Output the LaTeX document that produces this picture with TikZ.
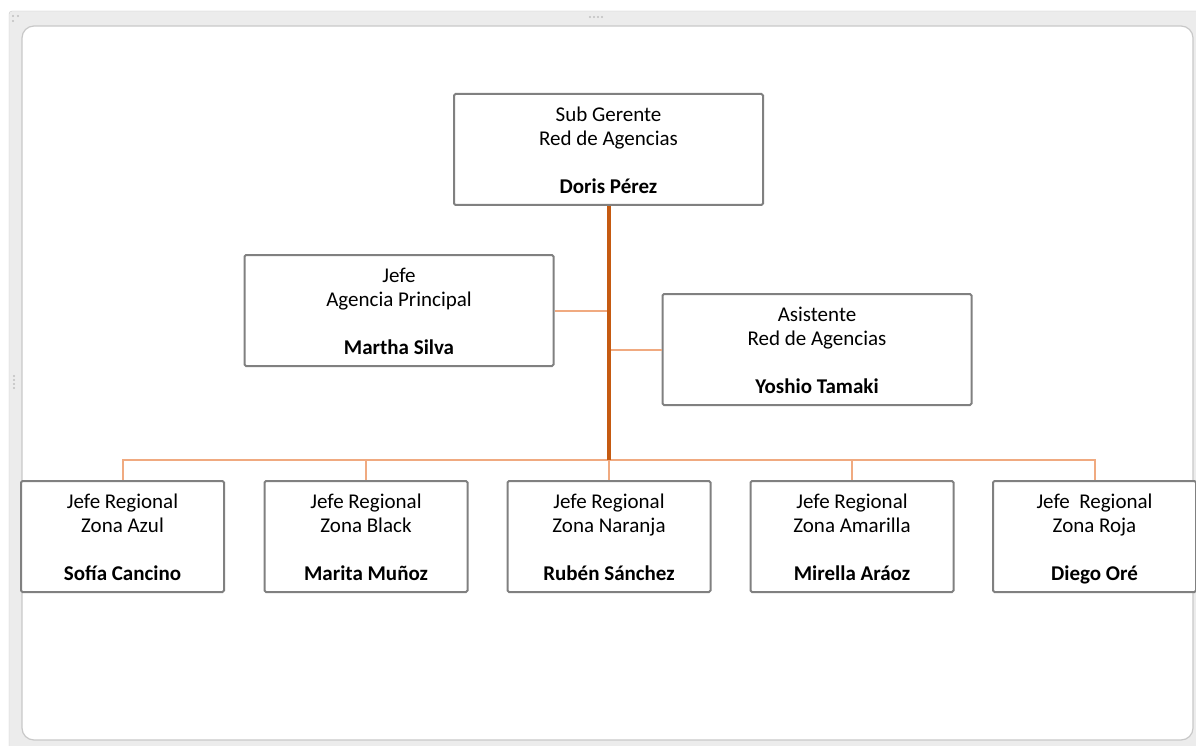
\documentclass[tikz,border=0pt]{standalone}
\usepackage{fontspec}
\setmainfont{Carlito}
\definecolor{boxline}{RGB}{128,128,128}
\definecolor{trunkcol}{RGB}{197,90,17}
\definecolor{branchcol}{RGB}{240,170,128}
\definecolor{framecol}{RGB}{236,236,236}
\definecolor{frameline}{RGB}{200,200,200}
\newcommand{\cardtext}[3]{\rule{0pt}{23pt}#1\\#2\\~\\\textbf{#3}\strut}
\tikzset{
  unit/.style={draw=boxline,line width=2pt,rounded corners=1.5pt,fill=white,
    minimum width=309pt,minimum height=111pt,inner sep=0pt,align=center,
    font=\fontsize{21}{24}\selectfont},
  zone/.style={unit,minimum width=203pt},
  trunk/.style={trunkcol,line width=4pt},
  branch/.style={branchcol,line width=2pt}
}
\begin{document}
\begin{tikzpicture}[x=1pt,y=-1pt]
    \useasboundingbox (0,0) rectangle (1196,746);

    % Frame
    \fill[framecol,rounded corners=3pt] (9,11) rectangle (1210,760);
    \draw[frameline,rounded corners=3pt] (9,760) -- (9,11) -- (1210,11);
    \draw[frameline,fill=white,line width=1.2pt,rounded corners=12pt] (22,26) rectangle (1193,740);
    \foreach \dx in {-6,-2,2,6} \fill[gray!50] (596+\dx,17) circle (1.1pt);
    \foreach \dy in {-6,-2,2,6} \fill[gray!50] (14,382+\dy) circle (1.1pt);
    \fill[gray!50] (13,16) circle (1.1pt) (18,16) circle (1.1pt) (13,21) circle (1.1pt);

    % Top level
    \node[unit] (sub) at (608.5,149.5) {\cardtext{Sub Gerente}{Red de Agencias}{Doris Pérez}};

    % Staff
    \node[unit] (jap) at (399,310.5) {\cardtext{Jefe}{Agencia Principal}{Martha Silva}};
    \node[unit] (asis) at (817,349.5) {\cardtext{Asistente}{Red de Agencias}{Yoshio Tamaki}};

    % Regional heads
    \node[zone] (z1) at (122.5,536.5) {\cardtext{Jefe Regional}{Zona Azul}{Sofía Cancino}};
    \node[zone] (z2) at (366,536.5) {\cardtext{Jefe Regional}{Zona Black}{Marita Muñoz}};
    \node[zone] (z3) at (609,536.5) {\cardtext{Jefe Regional}{Zona Naranja}{Rubén Sánchez}};
    \node[zone] (z4) at (852,536.5) {\cardtext{Jefe Regional}{Zona Amarilla}{Mirella Aráoz}};
    \node[zone] (z5) at (1094.5,536.5) {\cardtext{Jefe\ \ Regional}{Zona Roja}{Diego Oré}};

    % Connectors
    \coordinate (bar) at (608.5,460);
    \draw[branch] (jap.east) -- (jap.east -| sub.south);
    \draw[branch] (asis.west) -- (asis.west -| sub.south);
    \draw[branch] (z1.north) |- (bar) -| (z5.north);
    \draw[branch] (z2.north) -- (z2.north |- bar);
    \draw[branch] (z3.north) -- (z3.north |- bar);
    \draw[branch] (z4.north) -- (z4.north |- bar);
    \draw[trunk] (sub.south) -- (bar);
  \end{tikzpicture}
\end{document}
